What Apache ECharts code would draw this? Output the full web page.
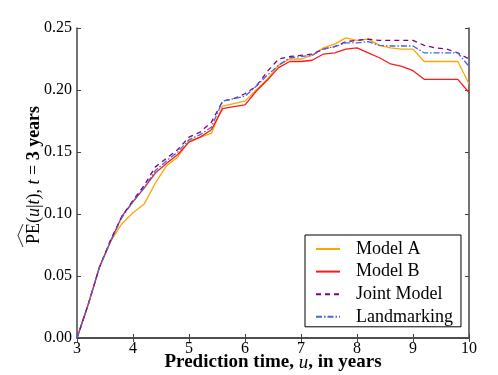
<!DOCTYPE html>
<html>
<head>
<meta charset="utf-8">
<script src="https://cdn.jsdelivr.net/npm/echarts@6/dist/echarts.min.js"></script>
<style>
  html, body { margin: 0; padding: 0; background: #fff; }
  #chart { width: 498px; height: 375px; }
</style>
</head>
<body>
<div id="chart"></div>
<script>
// prediction times u (years)
const times = [3.0, 3.2, 3.4, 3.6, 3.8, 4.0, 4.2, 4.4, 4.6, 4.8, 5.0, 5.2, 5.4, 5.6, 5.8, 6.0, 6.2, 6.4,
  6.6, 6.8, 7.0, 7.2, 7.4, 7.6, 7.8, 8.0, 8.2, 8.4, 8.6, 8.8, 9.0, 9.2, 9.4, 9.6, 9.8, 10.0];

// estimated prediction error PE(u|t), t = 3
const modelA = [0, 0.027, 0.057, 0.078, 0.092, 0.101, 0.108, 0.125, 0.139, 0.146, 0.159, 0.162, 0.165, 0.187,
  0.189, 0.191, 0.200, 0.209, 0.220, 0.225, 0.225, 0.228, 0.234, 0.237, 0.242, 0.240, 0.241, 0.236, 0.234,
  0.233, 0.233, 0.223, 0.223, 0.223, 0.223, 0.205];
const modelB = [0, 0.027, 0.057, 0.078, 0.098, 0.110, 0.121, 0.133, 0.141, 0.148, 0.158, 0.162, 0.168, 0.185,
  0.1866, 0.188, 0.199, 0.208, 0.218, 0.223, 0.223, 0.224, 0.229, 0.230, 0.233, 0.234, 0.230, 0.226, 0.221,
  0.219, 0.2156, 0.2086, 0.2086, 0.2086, 0.2086, 0.198];
const jointModel = [0, 0.027, 0.057, 0.079, 0.098, 0.111, 0.123, 0.138, 0.145, 0.152, 0.162, 0.166, 0.174, 0.191,
  0.193, 0.197, 0.203, 0.215, 0.225, 0.227, 0.228, 0.229, 0.233, 0.235, 0.239, 0.240, 0.241, 0.240, 0.240,
  0.240, 0.240, 0.236, 0.234, 0.233, 0.230, 0.225];
const landmarking = [0, 0.027, 0.057, 0.078, 0.097, 0.110, 0.121, 0.135, 0.143, 0.150, 0.160, 0.164, 0.170, 0.191,
  0.193, 0.195, 0.203, 0.212, 0.220, 0.226, 0.227, 0.228, 0.233, 0.235, 0.238, 0.238, 0.239, 0.236, 0.2355,
  0.2355, 0.2355, 0.230, 0.230, 0.230, 0.230, 0.219];

const font = 'Liberation Serif';
const axisColor = '#444';

const pairs = vals => times.map((u, i) => [u, vals[i]]);

const makeSeries = (name, vals, color, type) => ({
  name,
  type: 'line',
  data: pairs(vals),
  symbol: 'none',
  z: 3,
  lineStyle: { color, width: 1.3, type },
  itemStyle: { color }
});

const frameAxis = {
  axisLine: { show: true, lineStyle: { color: axisColor, width: 1.5 } },
  axisTick: { show: true, inside: true, length: 4, lineStyle: { color: axisColor } },
  splitLine: { show: false }
};

const chart = echarts.init(document.getElementById('chart'));

chart.setOption({
  animation: false,
  backgroundColor: '#fff',
  textStyle: { fontFamily: font },
  grid: { left: 77, right: 29, top: 28, bottom: 37, outerBoundsMode: 'none', containLabel: false },
  xAxis: [{
    type: 'value',
    min: 3,
    max: 10,
    interval: 1,
    name: '{b|Prediction time, }{bi|u}{b|, in years}',
    nameLocation: 'middle',
    nameMoveOverlap: false,
    nameGap: 15,
    nameTextStyle: {
      rich: {
        b: { fontFamily: font, fontSize: 19, fontWeight: 'bold', color: '#000' },
        bi: { fontFamily: font, fontSize: 19, fontStyle: 'italic', color: '#000' }
      }
    },
    ...frameAxis,
    axisLabel: { color: '#000', fontSize: 16, fontFamily: font, margin: 3 }
  }, {
    type: 'value',
    position: 'top',
    min: 3,
    max: 10,
    interval: 1,
    ...frameAxis,
    axisLabel: { show: false }
  }],
  yAxis: [{
    type: 'value',
    min: 0,
    max: 0.25,
    interval: 0.05,
    name: '{n|PE(}{i|u}{n||}{i|t}{n|), }{i|t}{n| = }{b|3 years}',
    nameLocation: 'middle',
    nameMoveOverlap: false,
    nameRotate: 90,
    nameGap: 34,
    nameTextStyle: {
      padding: [0, 0, 0, 16],
      rich: {
        n: { fontFamily: font, fontSize: 18, color: '#000' },
        i: { fontFamily: font, fontSize: 18, fontStyle: 'italic', color: '#000' },
        b: { fontFamily: font, fontSize: 18, fontWeight: 'bold', color: '#000' }
      }
    },
    ...frameAxis,
    axisLabel: { color: '#000', fontSize: 16, fontFamily: font, margin: 5, formatter: v => v.toFixed(2) }
  }, {
    type: 'value',
    position: 'right',
    min: 0,
    max: 0.25,
    interval: 0.05,
    ...frameAxis,
    axisLabel: { show: false }
  }],
  legend: {
    orient: 'vertical',
    left: 305,
    top: 235,
    padding: [5, 8, 1, 10],
    itemWidth: 24,
    itemHeight: 14,
    itemGap: 4.6,
    backgroundColor: '#fff',
    borderColor: '#000',
    borderWidth: 1,
    borderRadius: 0,
    itemStyle: { opacity: 0 },
    textStyle: { fontFamily: font, fontSize: 18, color: '#000', padding: [0, 0, 0, 11] },
    data: ['Model A', 'Model B', 'Joint Model', 'Landmarking']
  },
  graphic: [{
    // wide hat over "PE" in the y-axis title
    type: 'polyline',
    shape: { points: [[23, 247], [18, 235.5], [23, 224]] },
    style: { stroke: '#000', lineWidth: 0.8, fill: null }
  }],
  series: [
    makeSeries('Model A', modelA, '#ffa500', 'solid'),
    makeSeries('Model B', modelB, '#ff1a1a', 'solid'),
    makeSeries('Joint Model', jointModel, '#800080', [5, 4]),
    makeSeries('Landmarking', landmarking, '#4169e1', [6, 2, 1.5, 2])
  ]
});
</script>
</body>
</html>
